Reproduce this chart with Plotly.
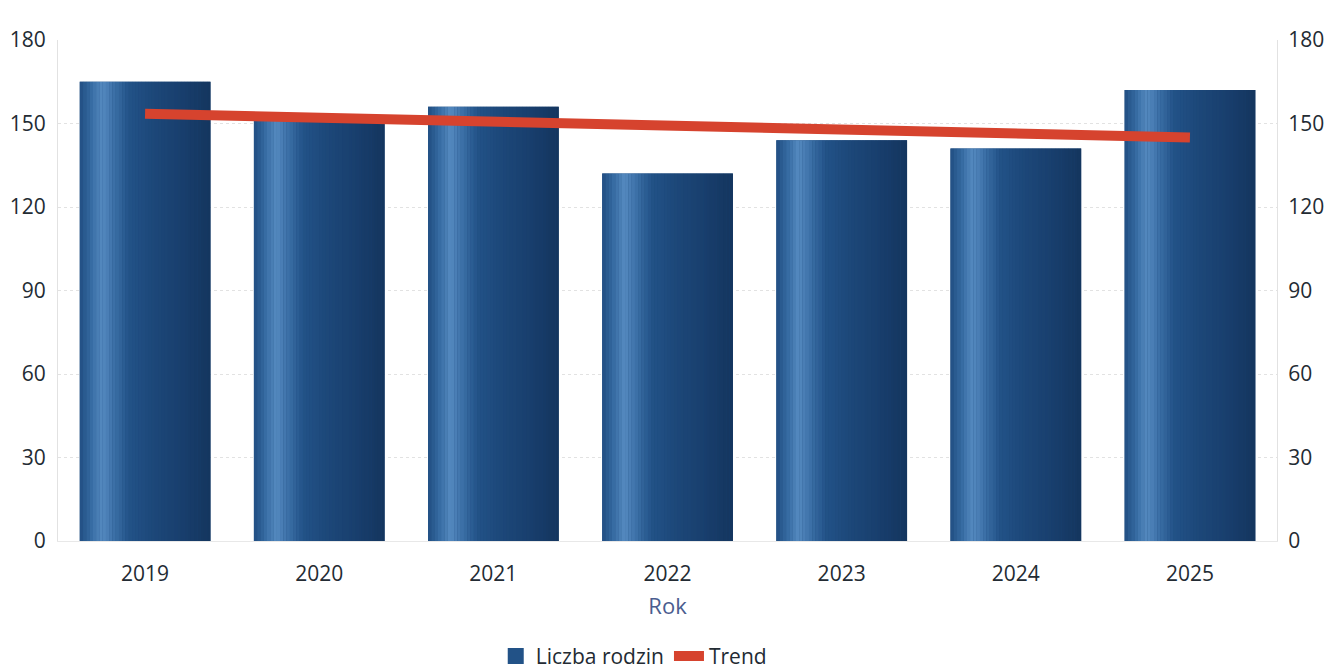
import plotly.graph_objects as go

# ---- data ----
years = ["2019", "2020", "2021", "2022", "2023", "2024", "2025"]
families = [165, 152, 156, 132, 144, 141, 162]
trend = [153.5, 152.0, 150.5, 149.0, 147.5, 146.0, 145.0]
y_ticks = [0, 30, 60, 90, 120, 150, 180]

# ---- styling ----
# colour stops across the bar width (position 0..1, rgb)
shade_stops = [
    (0.00, (33, 78, 130)),
    (0.08, (52, 105, 160)),
    (0.17, (85, 138, 192)),
    (0.27, (58, 110, 165)),
    (0.38, (34, 82, 135)),
    (0.55, (29, 72, 122)),
    (0.80, (24, 62, 108)),
    (1.00, (20, 53, 94)),
]
N_SLICES = 40
BAR_W = 0.75
TEXT = "#232b33"


def shade_at(t):
    for (p0, c0), (p1, c1) in zip(shade_stops[:-1], shade_stops[1:]):
        if p0 <= t <= p1:
            f = (t - p0) / (p1 - p0)
            r, g, b = (round(a + (bb - a) * f) for a, bb in zip(c0, c1))
            return f"rgb({r},{g},{b})"
    r, g, b = shade_stops[-1][1]
    return f"rgb({r},{g},{b})"


fig = go.Figure()
fig.add_trace(go.Bar(
    x=years, y=families, name="Liczba rodzin", width=BAR_W,
    marker=dict(color="rgb(29,72,122)", line=dict(width=0)),
    showlegend=False,
))
for i in range(N_SLICES):
    fig.add_trace(go.Bar(
        x=years, y=families, width=BAR_W / N_SLICES * 1.05,
        offset=-BAR_W / 2 + i * BAR_W / N_SLICES,
        marker=dict(color=shade_at((i + 0.5) / N_SLICES), line=dict(width=0)),
        showlegend=False, hoverinfo="skip",
    ))
# legend entry for the bars (bigger square icon, like the reference)
fig.add_trace(go.Scatter(
    x=[None], y=[None], mode="markers", name="Liczba rodzin",
    marker=dict(symbol="square", size=18, color="rgb(34,82,135)"),
))
fig.add_trace(go.Scatter(
    x=years, y=trend, yaxis="y2", mode="lines", name="Trend",
    line=dict(color="#d6432e", width=10),
))

axis_common = dict(
    range=[0, 180], tickvals=y_ticks, zeroline=False, automargin=False,
    tickfont=dict(size=21, color=TEXT), ticks="",
)

fig.update_layout(
    width=1337, height=669,
    margin=dict(l=58, r=60, t=40, b=128),
    paper_bgcolor="white", plot_bgcolor="white",
    barmode="overlay",
    font=dict(family="Open Sans", size=21, color=TEXT),
    xaxis=dict(
        title=dict(text="Rok", font=dict(color="#4a5d8f", size=22), standoff=12),
        showgrid=False, showline=True, linecolor="#e8e8e8", ticks="",
        tickfont=dict(size=21, color=TEXT), ticklabelstandoff=14,
        automargin=False,
    ),
    yaxis=dict(
        showgrid=True, gridcolor="#e2e2e2", griddash="dot", gridwidth=1,
        showline=True, linecolor="#e2e2e2", ticklabelstandoff=7,
        **axis_common,
    ),
    yaxis2=dict(
        overlaying="y", side="right", showgrid=False,
        showline=True, linecolor="#e2e2e2", ticklabelstandoff=6,
        **axis_common,
    ),
    legend=dict(
        orientation="h", xref="container", yref="container",
        x=0.474, y=0.019, xanchor="center", yanchor="middle",
        font=dict(size=21, color=TEXT), itemwidth=30,
    ),
    showlegend=True,
)

# remove the default page margin so the figure fills the window exactly
fig.write_html(
    "out.html",
    config={"displayModeBar": False},
    post_script="document.body.style.margin='0';document.body.style.overflow='hidden';",
)
